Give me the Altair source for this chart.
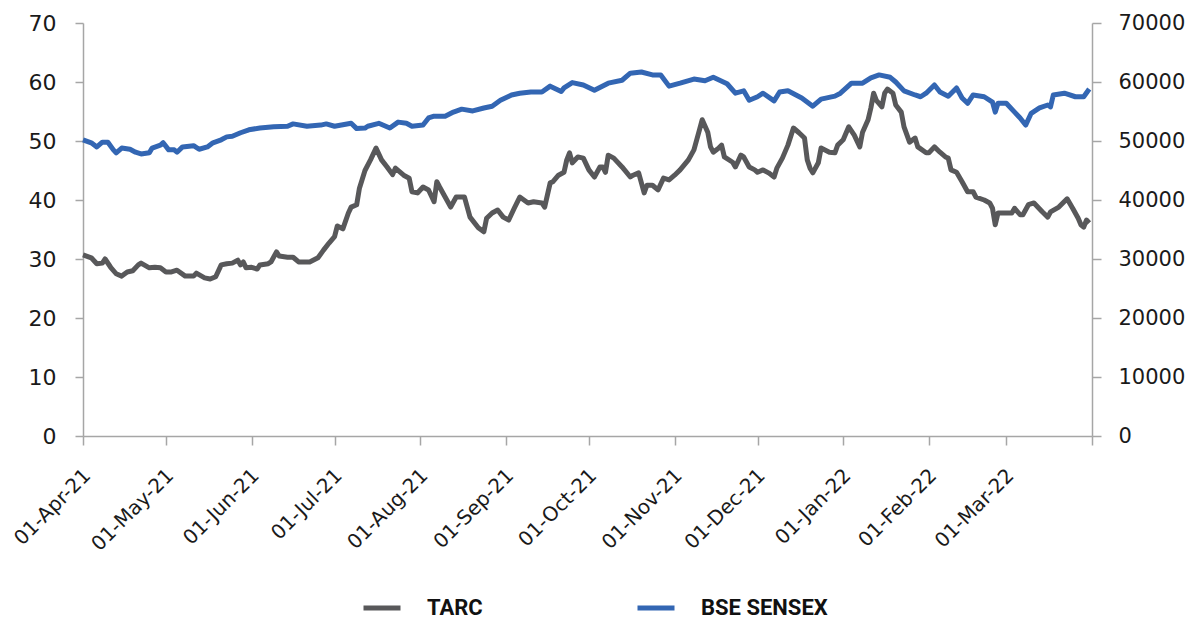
import altair as alt
import pandas as pd

# ---- data ----
# days since 01-Apr-2021
tarc_day = [0, 3, 5, 7, 8, 10, 12, 14, 16, 18, 20, 21, 24, 26, 28, 30, 32, 34, 37, 40,
            41, 44, 46, 48, 50, 52, 54, 56, 57, 58, 59, 61, 63, 64, 67, 68, 70, 71, 74, 76,
            78, 80, 82, 85, 87, 89, 91, 92, 94, 96, 97, 99, 100, 102, 104, 106, 108, 110, 112, 113,
            116, 118, 119, 121, 123, 125, 127, 128, 129, 131, 133, 135, 138, 139, 140, 143, 145, 146, 148, 150,
            152, 154, 156, 158, 161, 163, 166, 167, 169, 170, 172, 174, 175, 176, 177, 179, 181, 183, 185, 187,
            188, 189, 190, 192, 195, 198, 199, 201, 203, 204, 206, 208, 210, 212, 214, 216, 219, 221, 223, 224,
            226, 227, 228, 230, 231, 232, 235, 236, 238, 239, 241, 243, 244, 246, 248, 250, 251, 253, 255, 257,
            259, 261, 262, 263, 264, 266, 267, 270, 272, 273, 275, 277, 279, 281, 282, 284, 285, 286, 287, 289,
            290, 291, 293, 294, 296, 297, 299, 301, 302, 305, 306, 308, 310, 312, 313, 314, 316, 318, 320, 322,
            323, 326, 328, 329, 330, 331, 334, 336, 337, 339, 340, 342, 344, 347, 349, 350, 353, 356, 358, 360,
            361, 362, 363, 364]
tarc_val = [30.7, 30.2, 29.2, 29.3, 30.0, 28.6, 27.5, 27.1, 27.8, 28.0, 29.0, 29.3, 28.5, 28.6, 28.5, 27.8, 27.8, 28.1, 27.1, 27.1,
            27.6, 26.8, 26.6, 27.0, 29.0, 29.2, 29.3, 29.8, 29.0, 29.5, 28.5, 28.6, 28.3, 29.0, 29.2, 29.5, 31.2, 30.5, 30.3, 30.3,
            29.5, 29.5, 29.5, 30.2, 31.5, 32.7, 33.8, 35.6, 35.1, 37.8, 38.8, 39.2, 42.0, 45.0, 46.8, 48.8, 46.8, 45.6, 44.3, 45.4,
            44.2, 43.7, 41.4, 41.2, 42.2, 41.7, 39.7, 43.1, 42.2, 40.5, 38.8, 40.5, 40.5, 38.8, 37.1, 35.3, 34.6, 36.9, 37.8, 38.3,
            37.1, 36.6, 38.6, 40.5, 39.5, 39.7, 39.5, 38.8, 42.9, 43.1, 44.2, 44.7, 46.8, 48.0, 46.3, 47.3, 47.1, 45.1, 43.9, 45.6,
            45.6, 44.7, 47.6, 47.1, 45.6, 43.9, 44.2, 44.6, 41.2, 42.5, 42.5, 41.7, 43.7, 43.4, 44.2, 45.1, 46.8, 48.5, 51.9, 53.6,
            51.5, 49.0, 48.1, 48.8, 49.3, 47.3, 46.4, 45.6, 47.6, 47.3, 45.6, 45.1, 44.7, 45.1, 44.6, 43.9, 45.4, 47.1, 49.3, 52.2,
            51.4, 50.5, 46.8, 45.4, 44.6, 46.3, 48.8, 48.1, 48.0, 49.3, 50.2, 52.4, 51.0, 49.0, 51.5, 53.6, 55.6, 58.1, 56.9, 55.8,
            58.1, 58.8, 58.1, 56.1, 54.9, 52.4, 49.8, 50.5, 49.0, 48.0, 48.0, 49.0, 48.1, 47.3, 47.1, 45.1, 44.7, 43.1, 41.4, 41.4,
            40.5, 40.0, 39.5, 38.6, 35.8, 37.8, 37.8, 37.8, 38.6, 37.5, 37.5, 39.2, 39.5, 38.0, 37.1, 38.0, 38.8, 40.2, 38.6, 36.9,
            35.8, 35.4, 36.6, 36.1]

sensex_day = [0, 3, 5, 7, 9, 11, 12, 14, 17, 19, 21, 24, 25, 28, 29, 31, 33, 34, 36, 40,
              42, 45, 47, 50, 52, 54, 57, 60, 64, 69, 74, 76, 81, 86, 88, 91, 97, 99, 102, 103,
              107, 111, 114, 117, 119, 123, 125, 127, 131, 134, 137, 141, 145, 148, 151, 155, 158, 162, 166, 169,
              173, 174, 177, 181, 185, 190, 195, 198, 202, 206, 209, 212, 216, 221, 225, 228, 233, 236, 239, 241,
              244, 246, 250, 252, 255, 260, 264, 267, 272, 274, 278, 282, 285, 288, 292, 294, 297, 301, 303, 305,
              308, 310, 313, 316, 318, 320, 322, 326, 329, 330, 331, 334, 337, 339, 341, 343, 346, 349, 350, 351,
              355, 359, 362, 364]
sensex_val = [50200, 49700, 49000, 49800, 49800, 48500, 48000, 48800, 48600, 48100, 47800, 48000, 48800, 49300, 49700, 48500, 48500, 48100, 49000, 49200,
              48600, 49000, 49700, 50200, 50700, 50800, 51400, 51900, 52200, 52400, 52500, 52900, 52500, 52700, 52900, 52500, 53000, 52100, 52200, 52500,
              53000, 52200, 53200, 53000, 52500, 52700, 53900, 54200, 54200, 54900, 55400, 55100, 55600, 55900, 56900, 57800, 58100, 58300, 58300, 59300,
              58400, 59000, 59900, 59500, 58600, 59800, 60300, 61500, 61700, 61200, 61200, 59300, 59800, 60500, 60200, 60800, 59700, 58100, 58500, 56900,
              57500, 58100, 56800, 58300, 58500, 57300, 55900, 57100, 57600, 58100, 59800, 59800, 60700, 61200, 60800, 60000, 58500, 57800, 57500, 58100,
              59500, 58300, 57600, 59000, 57300, 56400, 57800, 57500, 56600, 54900, 56400, 56400, 54900, 53900, 52700, 54700, 55600, 56100, 55800, 57800,
              58100, 57500, 57500, 58800]

tick_dates = ["2021-04-01", "2021-05-01", "2021-06-01", "2021-07-01", "2021-08-01", "2021-09-01",
              "2021-10-01", "2021-11-01", "2021-12-01", "2022-01-01", "2022-02-01", "2022-03-01", "2022-04-01"]
left_ticks = [0, 10, 20, 30, 40, 50, 60, 70]
right_ticks = [0, 10000, 20000, 30000, 40000, 50000, 60000, 70000]
series_names = ["TARC", "BSE SENSEX"]
series_colors = ["#58585a", "#3366b3"]

start = pd.Timestamp("2021-04-01")
tarc_df = pd.DataFrame({
    "date": (start + pd.to_timedelta(tarc_day, unit="D")).strftime("%Y-%m-%d"),
    "value": tarc_val,
    "series": series_names[0],
})
sensex_df = pd.DataFrame({
    "date": (start + pd.to_timedelta(sensex_day, unit="D")).strftime("%Y-%m-%d"),
    "value": sensex_val,
    "series": series_names[1],
})


def dt(s):
    y, m, d = (int(p) for p in s.split("-"))
    return alt.DateTime(year=y, month=m, date=d, utc=True)


axis_font = "DejaVu Sans"
grey = "#a6a6a6"

x_enc = alt.X(
    "date:T",
    title=None,
    scale=alt.Scale(type="utc", domain=[dt(tick_dates[0]), dt(tick_dates[-1])]),
    axis=alt.Axis(
        values=[dt(s) for s in tick_dates],
        labelExpr="datum.value >= 1648700000000 ? '' : utcFormat(datum.value, '%d-%b-%y')",
        labelAngle=315,
        labelAlign="right",
        labelBaseline="middle",
        labelFontSize=20,
        labelPadding=27,
        labelOffset=4,
        tickSize=9,
        labelOverlap=False,
    ),
)

color_enc = alt.Color(
    "series:N",
    scale=alt.Scale(domain=series_names, range=series_colors),
    legend=alt.Legend(
        title=None,
        orient="none",
        legendX=278,
        legendY=564,
        direction="horizontal",
        symbolType="stroke",
        symbolSize=1369,
        symbolStrokeWidth=5,
        labelFont="Roboto",
        labelFontWeight="bold",
        labelFontSize=22,
        labelColor="#111111",
        labelOffset=24,
        columnPadding=144,
        padding=0,
    ),
)

tarc_line = alt.Chart(tarc_df).mark_line(strokeWidth=5, strokeJoin="round").encode(
    x=x_enc,
    y=alt.Y(
        "value:Q",
        title=None,
        scale=alt.Scale(domain=[0, 70]),
        axis=alt.Axis(values=left_ticks, tickSize=8, labelPadding=19, labelFontSize=22),
    ),
    color=color_enc,
)

sensex_line = alt.Chart(sensex_df).mark_line(strokeWidth=5, strokeJoin="round").encode(
    x=x_enc,
    y=alt.Y(
        "value:Q",
        title=None,
        scale=alt.Scale(domain=[0, 70000]),
        axis=alt.Axis(orient="right", values=right_ticks, format="d", tickSize=9,
                      labelPadding=17, labelFontSize=21),
    ),
    color=color_enc,
)

chart = (
    alt.layer(tarc_line, sensex_line)
    .resolve_scale(y="independent")
    .properties(
        width=1009,
        height=413,
        autosize=alt.AutoSizeParams(type="none"),
        padding={"left": 75, "top": 15, "right": 95, "bottom": 195},
    )
    .configure_view(stroke=None)
    .configure_axis(
        grid=False,
        domainColor=grey,
        domainWidth=1.5,
        tickColor=grey,
        tickWidth=1.5,
        labelFont=axis_font,
        labelColor="#1a1a1a",
    )
)

chart.save("out.html", embed_options={"renderer": "svg", "actions": False})
